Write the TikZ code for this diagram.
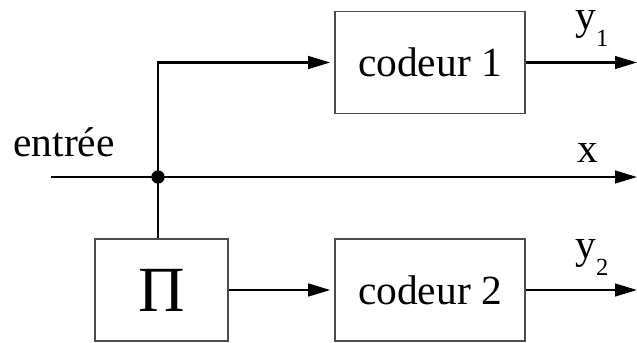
\documentclass[tikz,border=0pt]{standalone}
\usepackage{fontspec}
\setmainfont{Liberation Serif}
\usetikzlibrary{calc,arrows.meta,positioning}

\tikzset{
  bloc/.style={draw=black!70, line width=1.3pt, minimum width=5.7cm, minimum height=3.05cm,
    font=\fontsize{35.4}{40}\selectfont},
  fil/.style={line width=1.9pt},
  fleche/.style={fil, -{Triangle[length=6.6mm,width=3.8mm]}},
  etiq/.style={inner sep=0pt, anchor=base, font=\fontsize{35.4}{40}\selectfont}
}
\newcommand{\indice}[1]{\raisebox{-0.4em}{\fontsize{21}{24}\selectfont #1}}

\begin{document}
\begin{tikzpicture}[x=0.3mm,y=-0.3mm]

    \useasboundingbox (0,0) rectangle (637,343);

    % Blocs
    \node[bloc] (c1) at (430,62.5) {codeur 1};
    \node[bloc] (c2) at (430,290) {codeur 2};
    \node[bloc, minimum width=3.99cm, font=\fontsize{55}{60}\selectfont] (pi) at (161.5,290) {Π};

    % Entree, jonction, sorties
    \coordinate (in) at (51,177);
    \coordinate (J) at (158,177);
    \coordinate (y1out) at (637,62.5);
    \coordinate (xout) at (637,177);
    \coordinate (y2out) at (637,290);

    % Connexions
    \draw[fleche] (in) -- (xout);
    \draw[fleche, shorten >=1.2mm] (J) |- (c1);
    \draw[fil] (J) -- (J |- pi.north);
    \draw[fleche, shorten >=1.2mm] (pi) -- (c2);
    \draw[fleche] (c1) -- (y1out);
    \draw[fleche] (c2) -- (y2out);

    % Point de jonction
    \fill (J) circle (2mm);

    % Etiquettes
    \node[etiq] (lin) at (64,157) {entrée};
    \node[etiq] (lx) at (588,163) {x};
    \node[etiq] (ly1) at (592,30) {y\indice{1}};
    \node[etiq] (ly2) at (592,259) {y\indice{2}};

\end{tikzpicture}
\end{document}
